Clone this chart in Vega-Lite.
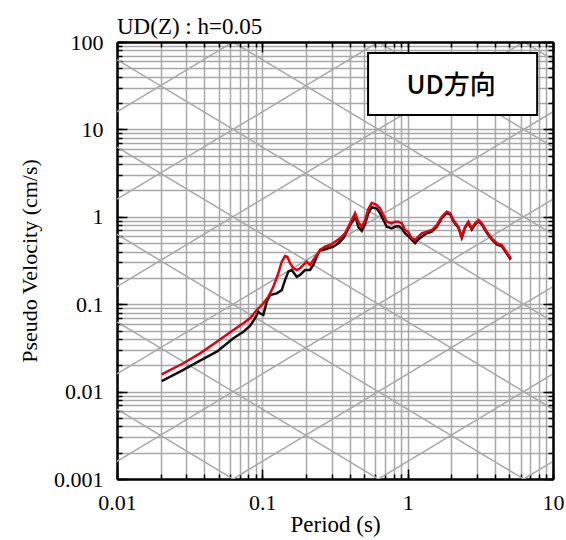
{
  "$schema": "https://vega.github.io/schema/vega-lite/v6.json",
  "width": 436,
  "height": 437,
  "autosize": "none",
  "padding": {"left": 117, "top": 42, "right": 13, "bottom": 61},
  "background": "white",
  "config": {"view": {"stroke": null}, "font": "Liberation Serif", "axis": {"titleFont": "Liberation Serif", "labelFont": "Liberation Serif"}},
  "title": {"text": "UD(Z) : h=0.05", "anchor": "start", "frame": "group", "font": "Liberation Serif", "fontSize": 23, "fontWeight": "normal", "color": "black", "offset": -8},
  "datasets": {
    "diag": [
      {"g": "a-3", "T": 0.01, "V": 0.0000015915}, {"g": "a-3", "T": 10, "V": 0.0015915},
      {"g": "a-2", "T": 0.01, "V": 0.000015915}, {"g": "a-2", "T": 10, "V": 0.015915},
      {"g": "a-1", "T": 0.01, "V": 0.00015915}, {"g": "a-1", "T": 10, "V": 0.15915},
      {"g": "a0", "T": 0.01, "V": 0.0015915}, {"g": "a0", "T": 10, "V": 1.5915},
      {"g": "a1", "T": 0.01, "V": 0.015915}, {"g": "a1", "T": 10, "V": 15.915},
      {"g": "a2", "T": 0.01, "V": 0.15915}, {"g": "a2", "T": 10, "V": 159.15},
      {"g": "a3", "T": 0.01, "V": 1.5915}, {"g": "a3", "T": 10, "V": 1591.5},
      {"g": "a4", "T": 0.01, "V": 15.915}, {"g": "a4", "T": 10, "V": 15915},
      {"g": "d-5", "T": 0.01, "V": 0.0062832}, {"g": "d-5", "T": 10, "V": 0.0000062832},
      {"g": "d-4", "T": 0.01, "V": 0.062832}, {"g": "d-4", "T": 10, "V": 0.000062832},
      {"g": "d-3", "T": 0.01, "V": 0.62832}, {"g": "d-3", "T": 10, "V": 0.00062832},
      {"g": "d-2", "T": 0.01, "V": 6.2832}, {"g": "d-2", "T": 10, "V": 0.0062832},
      {"g": "d-1", "T": 0.01, "V": 62.832}, {"g": "d-1", "T": 10, "V": 0.062832},
      {"g": "d0", "T": 0.01, "V": 628.32}, {"g": "d0", "T": 10, "V": 0.62832},
      {"g": "d1", "T": 0.01, "V": 6283.2}, {"g": "d1", "T": 10, "V": 6.2832},
      {"g": "d2", "T": 0.01, "V": 62832}, {"g": "d2", "T": 10, "V": 62.832}
    ],
    "black": [
      {"T": 0.0203, "V": 0.0132}, {"T": 0.0286, "V": 0.0177}, {"T": 0.0373, "V": 0.0226}, {"T": 0.0486, "V": 0.0286},
      {"T": 0.0632, "V": 0.0407}, {"T": 0.074, "V": 0.0485}, {"T": 0.0823, "V": 0.0563}, {"T": 0.0891, "V": 0.069},
      {"T": 0.0939, "V": 0.082}, {"T": 0.0964, "V": 0.0787}, {"T": 0.1016, "V": 0.0752}, {"T": 0.1072, "V": 0.107},
      {"T": 0.113, "V": 0.127}, {"T": 0.1256, "V": 0.133}, {"T": 0.136, "V": 0.145}, {"T": 0.1433, "V": 0.189},
      {"T": 0.151, "V": 0.236}, {"T": 0.1593, "V": 0.246}, {"T": 0.1725, "V": 0.206}, {"T": 0.1818, "V": 0.216},
      {"T": 0.1968, "V": 0.246}, {"T": 0.213, "V": 0.246}, {"T": 0.2244, "V": 0.281}, {"T": 0.2367, "V": 0.349},
      {"T": 0.2495, "V": 0.417}, {"T": 0.2629, "V": 0.417}, {"T": 0.2846, "V": 0.436}, {"T": 0.3081, "V": 0.455},
      {"T": 0.3335, "V": 0.498}, {"T": 0.361, "V": 0.567}, {"T": 0.381, "V": 0.676}, {"T": 0.4015, "V": 0.805},
      {"T": 0.4229, "V": 0.919}, {"T": 0.4385, "V": 0.995}, {"T": 0.4578, "V": 0.764}, {"T": 0.4832, "V": 0.689},
      {"T": 0.5091, "V": 0.827}, {"T": 0.5365, "V": 1.1}, {"T": 0.5662, "V": 1.29}, {"T": 0.613, "V": 1.245},
      {"T": 0.6457, "V": 1.1}, {"T": 0.6806, "V": 0.919}, {"T": 0.7181, "V": 0.77}, {"T": 0.7773, "V": 0.738},
      {"T": 0.8189, "V": 0.77}, {"T": 0.863, "V": 0.785}, {"T": 0.9107, "V": 0.738}, {"T": 0.9596, "V": 0.647},
      {"T": 1.011, "V": 0.603}, {"T": 1.067, "V": 0.543}, {"T": 1.125, "V": 0.498}, {"T": 1.185, "V": 0.553},
      {"T": 1.251, "V": 0.592}, {"T": 1.353, "V": 0.647}, {"T": 1.465, "V": 0.676}, {"T": 1.586, "V": 0.77},
      {"T": 1.717, "V": 0.962}, {"T": 1.858, "V": 1.11}, {"T": 1.958, "V": 1.07}, {"T": 2.063, "V": 0.89},
      {"T": 2.233, "V": 0.75}, {"T": 2.357, "V": 0.575}, {"T": 2.483, "V": 0.75}, {"T": 2.617, "V": 0.85},
      {"T": 2.761, "V": 0.715}, {"T": 2.91, "V": 0.82}, {"T": 3.066, "V": 0.89}, {"T": 3.236, "V": 0.82},
      {"T": 3.503, "V": 0.655}, {"T": 3.792, "V": 0.55}, {"T": 4.105, "V": 0.483}, {"T": 4.443, "V": 0.46},
      {"T": 4.681, "V": 0.405}, {"T": 4.932, "V": 0.355}, {"T": 5.124, "V": 0.325}
    ],
    "red": [
      {"T": 0.0203, "V": 0.0157}, {"T": 0.0286, "V": 0.0211}, {"T": 0.0373, "V": 0.0274}, {"T": 0.0486, "V": 0.0372},
      {"T": 0.0632, "V": 0.0507}, {"T": 0.074, "V": 0.0604}, {"T": 0.0823, "V": 0.069}, {"T": 0.0915, "V": 0.0859},
      {"T": 0.1016, "V": 0.1023}, {"T": 0.11, "V": 0.122}, {"T": 0.119, "V": 0.158}, {"T": 0.1288, "V": 0.226},
      {"T": 0.136, "V": 0.306}, {"T": 0.1433, "V": 0.356}, {"T": 0.1486, "V": 0.349}, {"T": 0.1551, "V": 0.294},
      {"T": 0.1634, "V": 0.258}, {"T": 0.1725, "V": 0.246}, {"T": 0.1818, "V": 0.258}, {"T": 0.1915, "V": 0.281},
      {"T": 0.2021, "V": 0.306}, {"T": 0.213, "V": 0.281}, {"T": 0.2244, "V": 0.321}, {"T": 0.2367, "V": 0.366},
      {"T": 0.2495, "V": 0.417}, {"T": 0.2701, "V": 0.455}, {"T": 0.2923, "V": 0.475}, {"T": 0.3166, "V": 0.519},
      {"T": 0.3426, "V": 0.567}, {"T": 0.3708, "V": 0.647}, {"T": 0.3907, "V": 0.77}, {"T": 0.4124, "V": 0.919},
      {"T": 0.4345, "V": 1.1}, {"T": 0.4578, "V": 0.873}, {"T": 0.4832, "V": 0.764}, {"T": 0.5091, "V": 0.919},
      {"T": 0.5365, "V": 1.23}, {"T": 0.5662, "V": 1.44}, {"T": 0.613, "V": 1.36}, {"T": 0.6457, "V": 1.25},
      {"T": 0.6806, "V": 1.05}, {"T": 0.7181, "V": 0.879}, {"T": 0.7773, "V": 0.843}, {"T": 0.8189, "V": 0.879},
      {"T": 0.863, "V": 0.879}, {"T": 0.9107, "V": 0.843}, {"T": 0.9596, "V": 0.706}, {"T": 1.011, "V": 0.67},
      {"T": 1.067, "V": 0.567}, {"T": 1.125, "V": 0.543}, {"T": 1.185, "V": 0.592}, {"T": 1.251, "V": 0.647},
      {"T": 1.353, "V": 0.676}, {"T": 1.465, "V": 0.706}, {"T": 1.586, "V": 0.805}, {"T": 1.717, "V": 1.0},
      {"T": 1.858, "V": 1.14}, {"T": 1.958, "V": 1.1}, {"T": 2.063, "V": 0.919}, {"T": 2.233, "V": 0.77},
      {"T": 2.357, "V": 0.592}, {"T": 2.483, "V": 0.77}, {"T": 2.617, "V": 0.879}, {"T": 2.761, "V": 0.738},
      {"T": 2.91, "V": 0.843}, {"T": 3.066, "V": 0.919}, {"T": 3.236, "V": 0.843}, {"T": 3.503, "V": 0.676},
      {"T": 3.792, "V": 0.567}, {"T": 4.105, "V": 0.498}, {"T": 4.443, "V": 0.475}, {"T": 4.681, "V": 0.417},
      {"T": 4.932, "V": 0.366}, {"T": 5.124, "V": 0.335}
    ],
    "box": [{"T": 0.534, "T2": 7.78, "V": 74.8, "V2": 14.6}],
    "label": [{"T": 1.99, "V": 31.4, "text": "UD方向"}]
  },
  "resolve": {"axis": {"x": "independent", "y": "independent"}},
  "layer": [
    {
      "data": {"name": "diag"},
      "mark": {"type": "line", "clip": true, "color": "#a8a8a8", "strokeWidth": 1.5},
      "encoding": {
        "x": {"field": "T", "type": "quantitative", "scale": {"type": "log", "domain": [0.01, 10], "nice": false},
          "axis": {"orient": "bottom", "zindex": 0,
            "values": [0.01,0.02,0.03,0.04,0.05,0.06,0.07,0.08,0.09,0.1,0.2,0.3,0.4,0.5,0.6,0.7,0.8,0.9,1,2,3,4,5,6,7,8,9,10],
            "grid": true, "gridColor": "#a8a8a8", "gridWidth": 1.5,
            "domain": true, "domainColor": "black", "domainWidth": 2.5,
            "ticks": true, "tickColor": "black", "tickWidth": 1.5, "tickSize": -5,
            "format": "~g",
            "labelExpr": "abs(log(datum.value)/LN10 - round(log(datum.value)/LN10)) < 0.01 ? datum.label : ''",
            "labelOverlap": false, "labelFlush": false, "labelBound": false,
            "labelFont": "Liberation Serif", "labelFontSize": 22, "labelColor": "black", "labelPadding": 18,
            "title": "Period (s)", "titleFont": "Liberation Serif", "titleFontSize": 23, "titleFontWeight": "normal", "titleColor": "black", "titlePadding": 0}},
        "y": {"field": "V", "type": "quantitative", "scale": {"type": "log", "domain": [0.001, 100], "nice": false},
          "axis": {"orient": "left", "zindex": 0,
            "values": [0.001,0.002,0.003,0.004,0.005,0.006,0.007,0.008,0.009,0.01,0.02,0.03,0.04,0.05,0.06,0.07,0.08,0.09,0.1,0.2,0.3,0.4,0.5,0.6,0.7,0.8,0.9,1,2,3,4,5,6,7,8,9,10,20,30,40,50,60,70,80,90,100],
            "grid": true, "gridColor": "#a8a8a8", "gridWidth": 1.5,
            "domain": true, "domainColor": "black", "domainWidth": 2.5,
            "ticks": true, "tickColor": "black", "tickWidth": 1.5, "tickSize": -5,
            "format": "~g",
            "labelExpr": "abs(log(datum.value)/LN10 - round(log(datum.value)/LN10)) < 0.01 ? datum.label : ''",
            "labelOverlap": false, "labelFlush": false, "labelBound": false,
            "labelFont": "Liberation Serif", "labelFontSize": 22, "labelColor": "black", "labelPadding": 19,
            "title": "Pseudo Velocity (cm/s)", "titleFont": "Liberation Serif", "titleFontSize": 22, "titleFontWeight": "normal", "titleColor": "black", "titlePadding": 12}},
        "detail": {"field": "g", "type": "nominal"}
      }
    },
    {
      "data": {"name": "black"},
      "mark": {"type": "line", "clip": true, "color": "#111111", "strokeWidth": 2.5},
      "encoding": {
        "x": {"field": "T", "type": "quantitative",
          "axis": {"orient": "top", "zindex": 1,
            "values": [0.01,0.02,0.03,0.04,0.05,0.06,0.07,0.08,0.09,0.1,0.2,0.3,0.4,0.5,0.6,0.7,0.8,0.9,1,2,3,4,5,6,7,8,9,10],
            "grid": false, "labels": false, "title": null,
            "domain": true, "domainColor": "black", "domainWidth": 2.5,
            "ticks": true, "tickColor": "black", "tickWidth": 1.5, "tickSize": -5}},
        "y": {"field": "V", "type": "quantitative",
          "axis": {"orient": "right", "zindex": 1,
            "values": [0.001,0.002,0.003,0.004,0.005,0.006,0.007,0.008,0.009,0.01,0.02,0.03,0.04,0.05,0.06,0.07,0.08,0.09,0.1,0.2,0.3,0.4,0.5,0.6,0.7,0.8,0.9,1,2,3,4,5,6,7,8,9,10,20,30,40,50,60,70,80,90,100],
            "grid": false, "labels": false, "title": null,
            "domain": true, "domainColor": "black", "domainWidth": 2.5,
            "ticks": true, "tickColor": "black", "tickWidth": 1.5, "tickSize": -5}}
      }
    },
    {
      "data": {"name": "red"},
      "mark": {"type": "line", "clip": true, "color": "#e3000f", "strokeWidth": 2.5},
      "encoding": {
        "x": {"field": "T", "type": "quantitative",
          "axis": {"orient": "bottom", "zindex": 1, "values": [0.01, 0.1, 1, 10],
            "grid": false, "labels": false, "title": null, "domain": false,
            "ticks": true, "tickColor": "black", "tickWidth": 1.5, "tickSize": -10}},
        "y": {"field": "V", "type": "quantitative",
          "axis": {"orient": "left", "zindex": 1, "values": [0.001, 0.01, 0.1, 1, 10, 100],
            "grid": false, "labels": false, "title": null, "domain": false,
            "ticks": true, "tickColor": "black", "tickWidth": 1.5, "tickSize": -10}}
      }
    },
    {
      "data": {"name": "box"},
      "mark": {"type": "rect", "fill": "white", "stroke": "black", "strokeWidth": 2},
      "encoding": {
        "x": {"field": "T", "type": "quantitative",
          "axis": {"orient": "top", "zindex": 1, "values": [0.01, 0.1, 1, 10],
            "grid": false, "labels": false, "title": null, "domain": false,
            "ticks": true, "tickColor": "black", "tickWidth": 1.5, "tickSize": -10}},
        "x2": {"field": "T2"},
        "y": {"field": "V", "type": "quantitative",
          "axis": {"orient": "right", "zindex": 1, "values": [0.001, 0.01, 0.1, 1, 10, 100],
            "grid": false, "labels": false, "title": null, "domain": false,
            "ticks": true, "tickColor": "black", "tickWidth": 1.5, "tickSize": -10}},
        "y2": {"field": "V2"}
      }
    },
    {
      "data": {"name": "label"},
      "mark": {"type": "text", "font": "Noto Sans CJK JP", "fontSize": 26, "fontWeight": 500, "color": "black", "align": "center", "baseline": "middle"},
      "encoding": {
        "x": {"field": "T", "type": "quantitative", "axis": null},
        "y": {"field": "V", "type": "quantitative", "axis": null},
        "text": {"field": "text", "type": "nominal"}
      }
    }
  ]
}
